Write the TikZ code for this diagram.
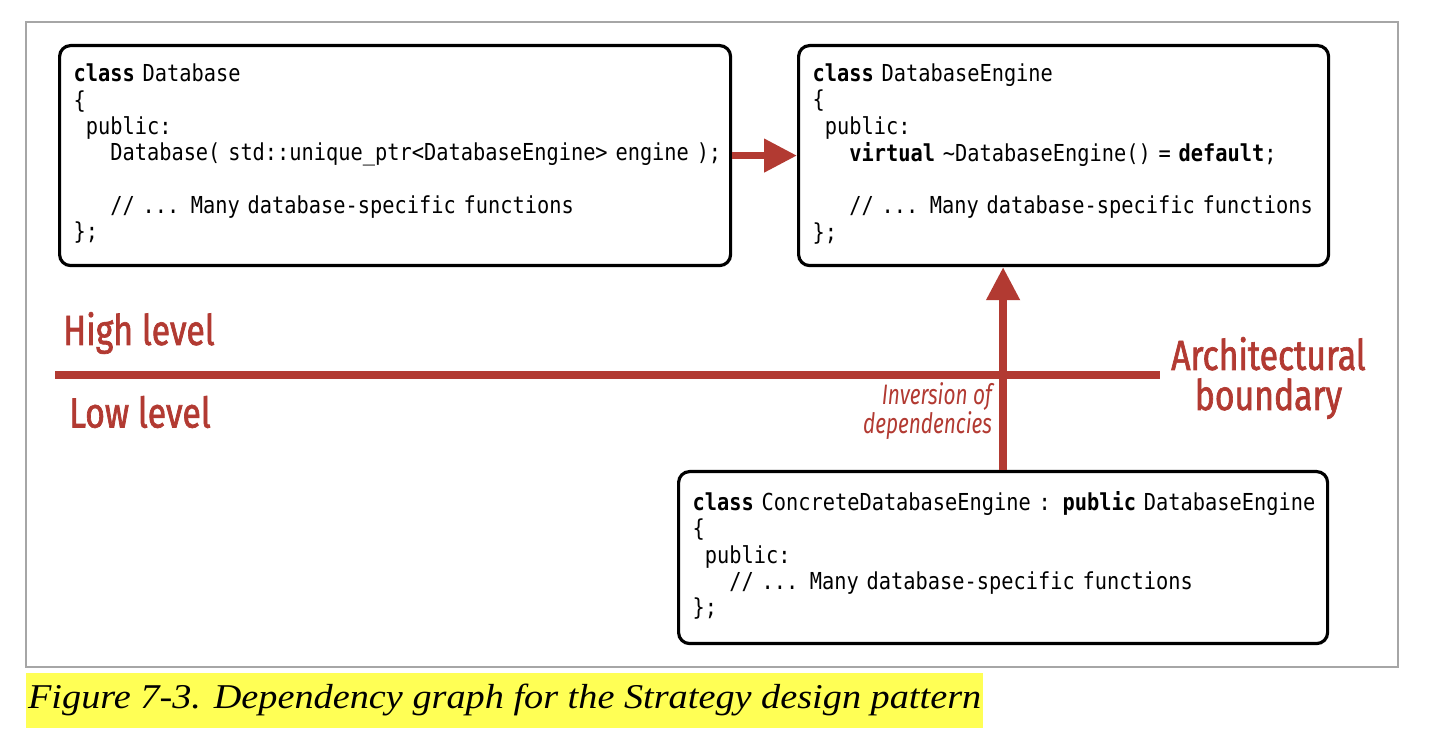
\documentclass[tikz,border=0pt]{standalone}
\usepackage{fontspec}
\usepackage{xcolor}
\usetikzlibrary{arrows.meta,positioning,calc}
\newfontfamily\codefont[FakeStretch=0.87]{DejaVu Sans Mono}
\newfontfamily\labfont[FakeStretch=0.8,FakeBold=1.6]{Fira Sans}
\newfontfamily\invfont[FakeStretch=0.74]{Fira Sans}
\newfontfamily\capfont[FakeStretch=1.1]{Liberation Serif}
\definecolor{ored}{HTML}{B23A32}
\definecolor{hilite}{HTML}{FFFF55}
\newcommand\codesize{\codefont\fontsize{13.3pt}{15pt}\selectfont\spaceskip=\fontcharwd\font`x\relax}
\newcommand\ind[1]{\hspace*{#1\fontcharwd\font`x}}
\tikzset{
  code/.style={draw=black,line width=1.8pt,rounded corners=0.22cm,fill=white,align=left,
               inner xsep=0.28cm,inner ysep=0pt,anchor=north west,font=\codesize},
  lab/.style={text=ored,align=center,font=\labfont\fontsize{24pt}{22.8pt}\selectfont},
  inv/.style={text=ored,align=right,inner sep=1pt,font=\invfont\itshape\fontsize{16pt}{15.4pt}\selectfont},
  redarr/.style={-{Triangle[length=0.66cm,width=0.64cm]},line width=0.15cm,ored},
  bound/.style={line width=0.16cm,ored},
}
\begin{document}
\begin{tikzpicture}
  \useasboundingbox (0,0) rectangle (29.08,14.96);
  \draw[gray!70,line width=0.8pt] (0.52,1.62) rectangle (27.96,14.52);
  % code boxes
  \node[code,text width=12.86cm,minimum height=4.4cm] (db) at (1.16,14.08) {%
    \begin{tabular}{@{}l@{}}
    \textbf{class} Database\\
    \{\\
    \ind1public:\\
    \ind3Database( std::unique\_ptr<DatabaseEngine> engine );\\[15pt]
    \ind3// ... Many database-specific functions\\
    \};
    \end{tabular}};
  \node[code,text width=10.04cm,minimum height=4.4cm] (eng) at (15.94,14.08) {%
    \begin{tabular}{@{}l@{}}
    \textbf{class} DatabaseEngine\\
    \{\\
    \ind1public:\\
    \ind3\textbf{virtual} \textasciitilde DatabaseEngine() = \textbf{default};\\[15pt]
    \ind3// ... Many database-specific functions\\
    \};
    \end{tabular}};
  \node[code,text width=12.42cm,minimum height=3.44cm] (conc) at (13.54,5.56) {%
    \begin{tabular}{@{}l@{}}
    \textbf{class} ConcreteDatabaseEngine : \textbf{public} DatabaseEngine\\
    \{\\
    \ind1public:\\
    \ind3// ... Many database-specific functions\\
    \};
    \end{tabular}};
  % boundary
  \coordinate (bl) at (1.1,7.46);
  \coordinate (br) at (23.2,7.46);
  \draw[bound] (bl) -- (br);
  \node[lab] (hi) at (2.78,8.3) {High level};
  \node[lab] (lo) at (2.8,6.72) {Low level};
  \node[lab,anchor=west] (ab) at (23.3,7.4) {Architectural\\boundary};
  % dependencies
  \draw[redarr] (db.east) -- (eng.west);
  \draw[redarr] (conc.north) -- (conc.north |- eng.south);
  \node[inv,anchor=east] (invlab) at (19.88,6.74) {Inversion of\\dependencies};
  % caption
  \node[fill=hilite,anchor=south west,inner xsep=1pt,minimum height=1.1cm,
        font=\capfont\itshape\fontsize{19.8pt}{22pt}\selectfont] (cap) at (0.52,0.4)
        {Figure 7-3. Dependency graph for the Strategy design pattern};
\end{tikzpicture}
\end{document}
